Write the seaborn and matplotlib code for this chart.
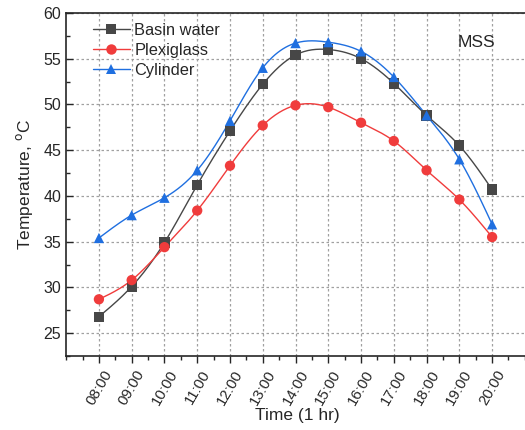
import numpy as np
import pandas as pd
import seaborn as sns
import matplotlib
matplotlib.use('Agg')
import matplotlib.pyplot as plt
from matplotlib.lines import Line2D
from matplotlib.ticker import MultipleLocator

# data
hours = ['08:00', '09:00', '10:00', '11:00', '12:00', '13:00', '14:00',
         '15:00', '16:00', '17:00', '18:00', '19:00', '20:00']
basin_water = [26.8, 30.1, 34.9, 41.2, 47.1, 52.2, 55.4, 56.0, 55.0, 52.3, 48.8, 45.5, 40.7]
plexiglass = [28.7, 30.8, 34.4, 38.4, 43.3, 47.7, 49.9, 49.7, 48.0, 46.0, 42.8, 39.6, 35.5]
cylinder = [35.4, 37.9, 39.8, 42.8, 48.2, 54.0, 56.7, 56.8, 55.8, 53.0, 48.8, 44.0, 36.9]

sns.set_style('ticks')
plt.rcParams['font.family'] = ['Liberation Sans', 'DejaVu Sans']


def spline(x, y, n=300):
    # natural cubic spline, only used to draw the smooth connecting line
    x = np.asarray(x, float)
    y = np.asarray(y, float)
    k = len(x)
    h = np.diff(x)
    A = np.zeros((k, k))
    b = np.zeros(k)
    A[0, 0] = A[-1, -1] = 1
    for i in range(1, k - 1):
        A[i, i - 1] = h[i - 1]
        A[i, i] = 2 * (h[i - 1] + h[i])
        A[i, i + 1] = h[i]
        b[i] = 6 * ((y[i + 1] - y[i]) / h[i] - (y[i] - y[i - 1]) / h[i - 1])
    m = np.linalg.solve(A, b)
    xs = np.linspace(x[0], x[-1], n)
    idx = np.clip(np.searchsorted(x, xs) - 1, 0, k - 2)
    x0, x1 = x[idx], x[idx + 1]
    hh = x1 - x0
    t0, t1 = x1 - xs, xs - x0
    ys = (m[idx] * t0 ** 3 + m[idx + 1] * t1 ** 3) / (6 * hh) \
        + (y[idx] / hh - m[idx] * hh / 6) * t0 + (y[idx + 1] / hh - m[idx + 1] * hh / 6) * t1
    return xs, ys


series = [('Basin water', basin_water, '#474747', 's'),
          ('Plexiglass', plexiglass, '#f03c3c', 'o'),
          ('Cylinder', cylinder, '#1f6fe0', '^')]

fig = plt.figure(figsize=(5.25, 4.3), dpi=100)
ax = fig.add_axes([0.126, 0.172, 0.88, 0.798])

pos = np.arange(len(hours))
handles = []
for name, vals, color, marker in series:
    xs, ys = spline(pos, vals)
    sns.lineplot(x=xs, y=ys, ax=ax, color=color, lw=1.0, sort=False)
    sns.scatterplot(x=pos, y=vals, ax=ax, color=color, marker=marker, s=55,
                    edgecolor='none', zorder=3)
    handles.append(Line2D([], [], color=color, lw=1.0, marker=marker,
                          markersize=7.5, markeredgewidth=0, label=name))

ax.set_xlim(-1, 13.1)
ax.set_ylim(22.5, 60)
ax.set_xticks(pos)
ax.set_xticklabels(hours, rotation=60, fontsize=10.8)
ax.xaxis.set_minor_locator(MultipleLocator(0.5))
ax.yaxis.set_major_locator(MultipleLocator(5))
ax.yaxis.set_minor_locator(MultipleLocator(2.5))
ax.tick_params(axis='y', which='both', direction='in', labelsize=11.5)
ax.tick_params(axis='x', which='both', direction='out')
ax.tick_params(which='major', length=5, width=1)
ax.tick_params(which='minor', length=3, width=1)
ax.grid(True, which='major', ls=(0, (2, 2)), color='#a0a0a0', lw=0.9)
for s in ax.spines.values():
    s.set_linewidth(1.2)
ax.spines['right'].set_visible(False)

ax.set_xlabel('Time (1 hr)', fontsize=12.5, labelpad=0)
ax.set_ylabel('Temperature, $^{\\mathrm{o}}$C', fontsize=12.5, labelpad=6)
ax.text(0.888, 0.915, 'MSS', transform=ax.transAxes, fontsize=12.5,
        ha='center', va='center')
ax.legend(handles=handles, loc='upper left', frameon=False, fontsize=11.8,
          handlelength=2.3, handletextpad=0.25, labelspacing=0.3,
          borderaxespad=0.2, bbox_to_anchor=(0.036, 1.0))

fig.savefig('out.png', dpi=100)
